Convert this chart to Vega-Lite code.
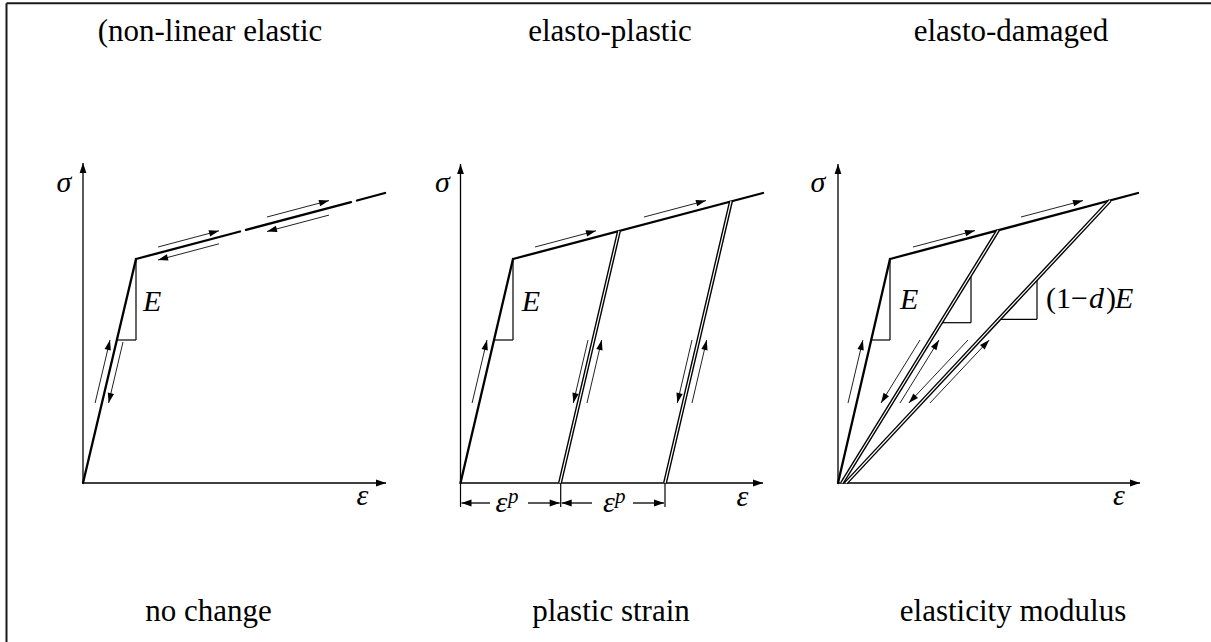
{
  "$schema": "https://vega.github.io/schema/vega-lite/v6.json",
  "width": 1211,
  "height": 642,
  "padding": 0,
  "autosize": {"type": "none"},
  "background": "white",
  "config": {"view": {"stroke": null}, "text": {"font": "'Liberation Serif', 'Times New Roman', serif"}},
  "datasets": {
    "frame": [
      {"x": 6.5, "y": 638.7, "x2": 1211, "y2": 638.7},
      {"x": 6.5, "y": 638.7, "x2": 6.5, "y2": 0}
    ],
    "curves": [
      {"x": 83, "y": 159, "x2": 136, "y2": 383},
      {"x": 136, "y": 383, "x2": 240, "y2": 410.5},
      {"x": 246, "y": 412.1, "x2": 351, "y2": 439.9},
      {"x": 357, "y": 441.5, "x2": 385, "y2": 449},
      {"x": 460.5, "y": 159, "x2": 513, "y2": 383},
      {"x": 513, "y": 383, "x2": 763, "y2": 449},
      {"x": 838, "y": 159, "x2": 890, "y2": 383},
      {"x": 890, "y": 383, "x2": 1138, "y2": 449}
    ],
    "unloading": [
      {"x": 560, "y": 159, "x2": 619, "y2": 411.1},
      {"x": 665, "y": 159, "x2": 731, "y2": 440.8},
      {"x": 842, "y": 159, "x2": 998, "y2": 411.7},
      {"x": 846, "y": 159, "x2": 1110, "y2": 441.5}
    ],
    "guides": [
      {"x": 136, "y": 383, "x2": 136, "y2": 302},
      {"x": 117, "y": 302, "x2": 136, "y2": 302},
      {"x": 513, "y": 383, "x2": 513, "y2": 302},
      {"x": 494, "y": 302, "x2": 513, "y2": 302},
      {"x": 890, "y": 383, "x2": 890, "y2": 302},
      {"x": 871.5, "y": 302, "x2": 890, "y2": 302},
      {"x": 971, "y": 367.4, "x2": 971, "y2": 319.3},
      {"x": 941.2, "y": 319.3, "x2": 971, "y2": 319.3},
      {"x": 1037, "y": 362.3, "x2": 1037, "y2": 322.7},
      {"x": 999.8, "y": 322.7, "x2": 1037, "y2": 322.7},
      {"x": 460.5, "y": 159, "x2": 460.5, "y2": 135},
      {"x": 560.7, "y": 159, "x2": 560.7, "y2": 135},
      {"x": 665, "y": 159, "x2": 665, "y2": 135}
    ],
    "axes": [
      {"x": 83, "y": 159, "x2": 83, "y2": 479},
      {"x": 83, "y": 159, "x2": 386, "y2": 159},
      {"x": 460.5, "y": 159, "x2": 460.5, "y2": 478},
      {"x": 460.5, "y": 159, "x2": 763, "y2": 159},
      {"x": 838, "y": 159, "x2": 838, "y2": 478},
      {"x": 838, "y": 159, "x2": 1140, "y2": 159},
      {"x": 490, "y": 139, "x2": 461.5, "y2": 139},
      {"x": 528, "y": 139, "x2": 559.7, "y2": 139},
      {"x": 592, "y": 139, "x2": 561.7, "y2": 139},
      {"x": 633, "y": 139, "x2": 664, "y2": 139}
    ],
    "arrows": [
      {"x": 95.1, "y": 239, "x2": 110, "y2": 302},
      {"x": 123, "y": 300, "x2": 108.6, "y2": 239},
      {"x": 158, "y": 395, "x2": 219, "y2": 411.2},
      {"x": 219, "y": 398.2, "x2": 158, "y2": 382},
      {"x": 267, "y": 425, "x2": 329, "y2": 441.4},
      {"x": 329, "y": 426.9, "x2": 267, "y2": 410.5},
      {"x": 472.1, "y": 239, "x2": 487, "y2": 302},
      {"x": 535, "y": 395, "x2": 596, "y2": 411.2},
      {"x": 644, "y": 425, "x2": 706, "y2": 441.4},
      {"x": 588, "y": 302, "x2": 573.3, "y2": 239},
      {"x": 587, "y": 239, "x2": 601.7, "y2": 302},
      {"x": 692, "y": 302, "x2": 677.3, "y2": 239},
      {"x": 692, "y": 239, "x2": 706.7, "y2": 302},
      {"x": 848, "y": 239, "x2": 862.9, "y2": 302},
      {"x": 913, "y": 395, "x2": 975, "y2": 411.4},
      {"x": 1021, "y": 425, "x2": 1083, "y2": 441.4},
      {"x": 920, "y": 302, "x2": 881, "y2": 239},
      {"x": 900, "y": 239, "x2": 939, "y2": 302},
      {"x": 968, "y": 302, "x2": 908.8, "y2": 239},
      {"x": 930, "y": 239, "x2": 989.2, "y2": 302}
    ],
    "titles": [
      {"x": 210, "y": 601, "t": "(non-linear elastic"},
      {"x": 610, "y": 601, "t": "elasto-plastic"},
      {"x": 1011, "y": 601, "t": "elasto-damaged"},
      {"x": 208.5, "y": 21, "t": "no change"},
      {"x": 611, "y": 21, "t": "plastic strain"},
      {"x": 1013, "y": 21, "t": "elasticity modulus"}
    ],
    "mathC": [
      {"x": 64, "y": 450, "t": "σ"},
      {"x": 442.5, "y": 450, "t": "σ"},
      {"x": 818, "y": 450, "t": "σ"},
      {"x": 362.5, "y": 137, "t": "ε"},
      {"x": 742.5, "y": 136, "t": "ε"},
      {"x": 1119, "y": 137, "t": "ε"},
      {"x": 501.5, "y": 130, "t": "ε"},
      {"x": 609, "y": 130, "t": "ε"}
    ],
    "mathL": [
      {"x": 143, "y": 331, "t": "E"},
      {"x": 521.7, "y": 331, "t": "E"},
      {"x": 900, "y": 333, "t": "E"},
      {"x": 1089, "y": 334, "t": "d"},
      {"x": 1115, "y": 334, "t": "E"}
    ],
    "upL": [
      {"x": 1046, "y": 334, "t": "(1−"},
      {"x": 1106, "y": 334, "t": ")"}
    ],
    "sup": [
      {"x": 508, "y": 139, "t": "p"},
      {"x": 615, "y": 139, "t": "p"}
    ]
  },
  "layer": [
    {
      "data": {"name": "frame"},
      "mark": {"type": "rule", "color": "#1a1a1a", "strokeWidth": 2},
      "encoding": {
        "x": {"field": "x", "type": "quantitative", "scale": {"domain": [0, 1211], "nice": false, "zero": false}, "axis": null},
        "y": {"field": "y", "type": "quantitative", "scale": {"domain": [0, 642], "nice": false, "zero": false}, "axis": null},
        "x2": {"field": "x2"},
        "y2": {"field": "y2"}
      }
    },
    {
      "data": {"name": "axes"},
      "mark": {"type": "rule", "color": "black", "strokeWidth": 1.3},
      "encoding": {
        "x": {"field": "x", "type": "quantitative", "scale": {"domain": [0, 1211], "nice": false, "zero": false}, "axis": null},
        "y": {"field": "y", "type": "quantitative", "scale": {"domain": [0, 642], "nice": false, "zero": false}, "axis": null},
        "x2": {"field": "x2"},
        "y2": {"field": "y2"}
      }
    },
    {
      "data": {"name": "guides"},
      "mark": {"type": "rule", "color": "black", "strokeWidth": 1.2},
      "encoding": {
        "x": {"field": "x", "type": "quantitative", "scale": {"domain": [0, 1211], "nice": false, "zero": false}, "axis": null},
        "y": {"field": "y", "type": "quantitative", "scale": {"domain": [0, 642], "nice": false, "zero": false}, "axis": null},
        "x2": {"field": "x2"},
        "y2": {"field": "y2"}
      }
    },
    {
      "data": {"name": "curves"},
      "mark": {"type": "rule", "color": "black", "strokeWidth": 2.3, "strokeCap": "round"},
      "encoding": {
        "x": {"field": "x", "type": "quantitative", "scale": {"domain": [0, 1211], "nice": false, "zero": false}, "axis": null},
        "y": {"field": "y", "type": "quantitative", "scale": {"domain": [0, 642], "nice": false, "zero": false}, "axis": null},
        "x2": {"field": "x2"},
        "y2": {"field": "y2"}
      }
    },
    {
      "data": {"name": "unloading"},
      "mark": {"type": "rule", "color": "black", "strokeWidth": 4},
      "encoding": {
        "x": {"field": "x", "type": "quantitative", "scale": {"domain": [0, 1211], "nice": false, "zero": false}, "axis": null},
        "y": {"field": "y", "type": "quantitative", "scale": {"domain": [0, 642], "nice": false, "zero": false}, "axis": null},
        "x2": {"field": "x2"},
        "y2": {"field": "y2"}
      }
    },
    {
      "data": {"name": "unloading"},
      "mark": {"type": "rule", "color": "white", "strokeWidth": 1.2},
      "encoding": {
        "x": {"field": "x", "type": "quantitative", "scale": {"domain": [0, 1211], "nice": false, "zero": false}, "axis": null},
        "y": {"field": "y", "type": "quantitative", "scale": {"domain": [0, 642], "nice": false, "zero": false}, "axis": null},
        "x2": {"field": "x2"},
        "y2": {"field": "y2"}
      }
    },
    {
      "data": {"name": "arrows"},
      "mark": {"type": "rule", "color": "#222222", "strokeWidth": 1},
      "encoding": {
        "x": {"field": "x", "type": "quantitative", "scale": {"domain": [0, 1211], "nice": false, "zero": false}, "axis": null},
        "y": {"field": "y", "type": "quantitative", "scale": {"domain": [0, 642], "nice": false, "zero": false}, "axis": null},
        "x2": {"field": "x2"},
        "y2": {"field": "y2"}
      }
    },
    {
      "data": {"name": "arrows"},
      "transform": [{"calculate": "atan2(datum.x2 - datum.x, datum.y2 - datum.y) * 180 / PI", "as": "heading"}],
      "mark": {"type": "point", "shape": "M0,0 L-0.32,1 L0.32,1 Z", "filled": true, "size": 400, "color": "black", "opacity": 1},
      "encoding": {
        "x": {"field": "x2", "type": "quantitative", "scale": {"domain": [0, 1211], "nice": false, "zero": false}, "axis": null},
        "y": {"field": "y2", "type": "quantitative", "scale": {"domain": [0, 642], "nice": false, "zero": false}, "axis": null},
        "angle": {"field": "heading", "type": "quantitative", "scale": null}
      }
    },
    {
      "data": {"name": "axes"},
      "transform": [{"calculate": "atan2(datum.x2 - datum.x, datum.y2 - datum.y) * 180 / PI", "as": "heading"}],
      "mark": {"type": "point", "shape": "M0,0 L-0.34,1 L0.34,1 Z", "filled": true, "size": 400, "color": "black", "opacity": 1},
      "encoding": {
        "x": {"field": "x2", "type": "quantitative", "scale": {"domain": [0, 1211], "nice": false, "zero": false}, "axis": null},
        "y": {"field": "y2", "type": "quantitative", "scale": {"domain": [0, 642], "nice": false, "zero": false}, "axis": null},
        "angle": {"field": "heading", "type": "quantitative", "scale": null}
      }
    },
    {
      "data": {"name": "titles"},
      "mark": {"type": "text", "font": "'Liberation Serif', 'Times New Roman', serif", "fontSize": 31, "align": "center", "baseline": "alphabetic", "color": "black"},
      "encoding": {
        "x": {"field": "x", "type": "quantitative", "scale": {"domain": [0, 1211], "nice": false, "zero": false}, "axis": null},
        "y": {"field": "y", "type": "quantitative", "scale": {"domain": [0, 642], "nice": false, "zero": false}, "axis": null},
        "text": {"field": "t"}
      }
    },
    {
      "data": {"name": "mathC"},
      "mark": {"type": "text", "font": "'Liberation Serif', 'Times New Roman', serif", "fontStyle": "italic", "fontSize": 30, "align": "center", "baseline": "alphabetic", "color": "black"},
      "encoding": {
        "x": {"field": "x", "type": "quantitative", "scale": {"domain": [0, 1211], "nice": false, "zero": false}, "axis": null},
        "y": {"field": "y", "type": "quantitative", "scale": {"domain": [0, 642], "nice": false, "zero": false}, "axis": null},
        "text": {"field": "t"}
      }
    },
    {
      "data": {"name": "mathL"},
      "mark": {"type": "text", "font": "'Liberation Serif', 'Times New Roman', serif", "fontStyle": "italic", "fontSize": 30, "align": "left", "baseline": "alphabetic", "color": "black"},
      "encoding": {
        "x": {"field": "x", "type": "quantitative", "scale": {"domain": [0, 1211], "nice": false, "zero": false}, "axis": null},
        "y": {"field": "y", "type": "quantitative", "scale": {"domain": [0, 642], "nice": false, "zero": false}, "axis": null},
        "text": {"field": "t"}
      }
    },
    {
      "data": {"name": "upL"},
      "mark": {"type": "text", "font": "'Liberation Serif', 'Times New Roman', serif", "fontSize": 30, "align": "left", "baseline": "alphabetic", "color": "black"},
      "encoding": {
        "x": {"field": "x", "type": "quantitative", "scale": {"domain": [0, 1211], "nice": false, "zero": false}, "axis": null},
        "y": {"field": "y", "type": "quantitative", "scale": {"domain": [0, 642], "nice": false, "zero": false}, "axis": null},
        "text": {"field": "t"}
      }
    },
    {
      "data": {"name": "sup"},
      "mark": {"type": "text", "font": "'Liberation Serif', 'Times New Roman', serif", "fontStyle": "italic", "fontSize": 21, "align": "left", "baseline": "alphabetic", "color": "black"},
      "encoding": {
        "x": {"field": "x", "type": "quantitative", "scale": {"domain": [0, 1211], "nice": false, "zero": false}, "axis": null},
        "y": {"field": "y", "type": "quantitative", "scale": {"domain": [0, 642], "nice": false, "zero": false}, "axis": null},
        "text": {"field": "t"}
      }
    }
  ]
}
